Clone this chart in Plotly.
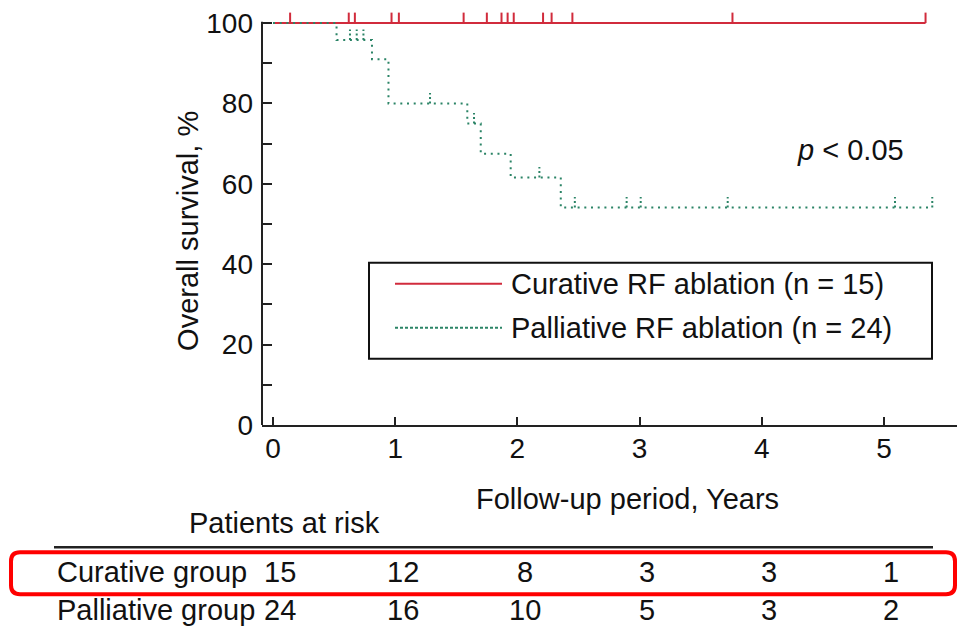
import numpy as np
import plotly.graph_objects as go

# ---------------- data ----------------
years_ticks = [0, 1, 2, 3, 4, 5]
y_ticks = [0, 20, 40, 60, 80, 100]

cur_times = [0.0, 5.34]
cur_surv = [100.0, 100.0]
cur_censor = [0.14, 0.62, 0.67, 0.97, 1.03, 1.56, 1.75, 1.87, 1.92, 1.97,
              2.21, 2.28, 2.45, 3.76, 5.34]

pal_times = [0.0, 0.52, 0.81, 0.945, 1.59, 1.70, 1.945, 2.355, 5.395]
pal_surv = [100.0, 95.8, 91.0, 80.0, 75.0, 67.5, 61.6, 54.1, 54.1]
pal_censor = [0.63, 0.685, 0.74, 1.285, 1.645, 2.18, 2.47, 2.894, 3.009,
              3.721, 5.09, 5.395]

risk_groups = ["Curative group", "Palliative group"]
risk_curative = [15, 12, 8, 3, 3, 1]
risk_palliative = [24, 16, 10, 5, 3, 2]

legend_labels = ["Curative RF ablation (n = 15)", "Palliative RF ablation (n = 24)"]

RED = "#D12B3C"
GREEN = "#2B8466"
INK = "#111111"
AX = "#222222"
FONT = "Liberation Sans, Arial, sans-serif"

Y_TOP = 103.0
PX_PER_PCT = 4.0277
# pixel helpers (plot area: x 262..957, y ..425.5)
L, R, B = 262.0, 957.0, 425.5
T = B - Y_TOP * PX_PER_PCT
W, H = 957, 635


def px(x):
    return (x - L) / (R - L)


def py(y):
    return (B - y) / (B - T)


def step_value(t, times, surv):
    idx = np.searchsorted(np.array(times), t, side="right") - 1
    return np.array(surv)[idx]


TICK_H = 2.6  # censor tick height in % units

fig = go.Figure()

# curative KM line
fig.add_trace(go.Scatter(x=cur_times, y=cur_surv, mode="lines", line_shape="hv",
                         line=dict(color=RED, width=2), showlegend=False,
                         hoverinfo="skip"))
# curative censor ticks (solid, upward)
cur_cy = step_value(cur_censor, cur_times, cur_surv)
cx, cy = [], []
for t, s in zip(cur_censor, cur_cy):
    cx += [t, t, None]
    cy += [s, s + TICK_H, None]
fig.add_trace(go.Scatter(x=cx, y=cy, mode="lines", line=dict(color=RED, width=2),
                         showlegend=False, hoverinfo="skip"))

# palliative KM line
fig.add_trace(go.Scatter(x=pal_times, y=pal_surv, mode="lines", line_shape="hv",
                         line=dict(color=GREEN, width=2, dash="2px,4.7px"),
                         showlegend=False, hoverinfo="skip"))
# palliative censor ticks (dotted, upward)
pal_cy = step_value(pal_censor, pal_times, pal_surv)
cx, cy = [], []
for t, s in zip(pal_censor, pal_cy):
    cx += [t, t, None]
    cy += [s, s + TICK_H, None]
fig.add_trace(go.Scatter(x=cx, y=cy, mode="lines",
                         line=dict(color=GREEN, width=2, dash="2px,2.5px"),
                         showlegend=False, hoverinfo="skip"))

shapes = []
annotations = []

# y axis line (ends at 100 %)
shapes.append(dict(type="line", xref="paper", yref="y", x0=0, x1=0, y0=0, y1=100.3,
                   line=dict(color=AX, width=2), layer="above"))

# legend box
shapes.append(dict(type="rect", xref="paper", yref="paper",
                   x0=px(369), x1=px(932), y0=py(263), y1=py(359),
                   line=dict(color=INK, width=2), fillcolor="white", layer="above"))
shapes.append(dict(type="line", xref="paper", yref="paper",
                   x0=px(395), x1=px(502), y0=py(284), y1=py(284),
                   line=dict(color=RED, width=2), layer="above"))
shapes.append(dict(type="line", xref="paper", yref="paper",
                   x0=px(395), x1=px(502), y0=py(328), y1=py(328),
                   line=dict(color=GREEN, width=2, dash="3px,2px"), layer="above"))
for lab, yy in zip(legend_labels, [284, 328]):
    annotations.append(dict(text=lab, xref="paper", yref="paper", x=px(509), y=py(yy),
                            xanchor="left", yanchor="middle", showarrow=False,
                            font=dict(size=29, color=INK, family=FONT)))

# p value
annotations.append(dict(text="<i>p</i> < 0.05", xref="paper", yref="paper",
                        x=px(850), y=py(150), xanchor="center", yanchor="middle",
                        showarrow=False, font=dict(size=29, color=INK, family=FONT)))

# axis titles
annotations.append(dict(text="Overall survival, %", xref="paper", yref="paper",
                        x=px(188), y=py(231), textangle=-90, xanchor="center",
                        yanchor="middle", showarrow=False,
                        font=dict(size=29, color=INK, family=FONT)))
annotations.append(dict(text="Follow-up period, Years", xref="paper", yref="paper",
                        x=px(627), y=py(500), xanchor="center", yanchor="middle",
                        showarrow=False, font=dict(size=29, color=INK, family=FONT)))

# at-risk table
annotations.append(dict(text="Patients at risk", xref="paper", yref="paper",
                        x=px(284), y=py(524), xanchor="center", yanchor="middle",
                        showarrow=False, font=dict(size=29, color=INK, family=FONT)))
shapes.append(dict(type="line", xref="paper", yref="paper",
                   x0=px(54), x1=px(933), y0=py(548), y1=py(548),
                   line=dict(color=AX, width=2.5)))
for grp, vals, yy in zip(risk_groups, [risk_curative, risk_palliative], [573, 611]):
    annotations.append(dict(text=grp, xref="paper", yref="paper", x=px(55), y=py(yy),
                            xanchor="left", yanchor="middle", showarrow=False,
                            font=dict(size=29, color=INK, family=FONT)))
    for yr, v in zip(years_ticks, vals):
        annotations.append(dict(text=str(v), xref="x", yref="paper", x=yr + 0.06,
                                y=py(yy), xanchor="center", yanchor="middle",
                                showarrow=False,
                                font=dict(size=29, color=INK, family=FONT)))

# red rounded highlight box
x0, x1, y0, y1, r = 11, 955, 553, 595, 9
pts = [
    ("M", x0 + r, y0), ("L", x1 - r, y0), ("Q", x1, y0, x1, y0 + r),
    ("L", x1, y1 - r), ("Q", x1, y1, x1 - r, y1), ("L", x0 + r, y1),
    ("Q", x0, y1, x0, y1 - r), ("L", x0, y0 + r), ("Q", x0, y0, x0 + r, y0),
]
path = ""
for p in pts:
    cmd = p[0]
    coords = p[1:]
    segs = []
    for i in range(0, len(coords), 2):
        segs.append(f"{px(coords[i]):.5f},{py(coords[i + 1]):.5f}")
    path += cmd + " ".join(segs) + " "
path += "Z"
shapes.append(dict(type="path", xref="paper", yref="paper", path=path,
                   line=dict(color="#FF0000", width=4)))

fig.update_layout(
    width=W, height=H,
    margin=dict(l=L, r=W - R, t=T, b=H - B, pad=0),
    paper_bgcolor="white", plot_bgcolor="white",
    font=dict(family=FONT, color=INK),
    showlegend=False,
    shapes=shapes, annotations=annotations,
    xaxis=dict(range=[-0.09, -0.09 + (R - L) / 122.2], tickvals=years_ticks,
               ticks="inside", ticklen=8, tickwidth=2, tickcolor=AX,
               showline=True, linecolor=AX, linewidth=2, showgrid=False,
               zeroline=False, tickfont=dict(size=28, color=INK, family=FONT),
               ticklabelstandoff=-3),
    yaxis=dict(range=[0, Y_TOP], tickvals=y_ticks,
               ticks="inside", ticklen=10, tickwidth=2, tickcolor=AX,
               minor=dict(tickvals=[10, 30, 50, 70, 90], ticks="inside", ticklen=10,
                          tickwidth=2, tickcolor=AX, showgrid=False),
               showline=False, showgrid=False,
               zeroline=False, tickfont=dict(size=28, color=INK, family=FONT),
               ticklabelstandoff=8),
)

fig.write_html("out.html", config={"displayModeBar": False},
               post_script="document.body.style.margin='0';document.body.style.overflow='hidden';")
